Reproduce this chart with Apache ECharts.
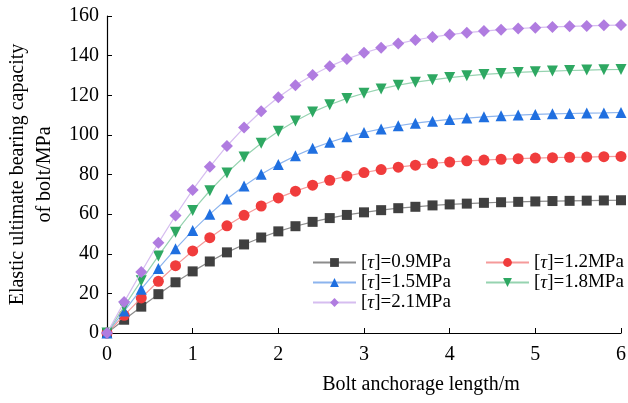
<!DOCTYPE html>
<html>
<head>
<meta charset="utf-8">
<script src="https://cdn.jsdelivr.net/npm/echarts@6/dist/echarts.min.js"></script>
<style>html,body{margin:0;padding:0;background:#fff}#c{width:628px;height:403px}</style>
</head>
<body>
<div id="c"></div>
<script>
var lengths = [0,0.2,0.4,0.6,0.8,1.0,1.2,1.4,1.6,1.8,2.0,2.2,2.4,2.6,2.8,3.0,3.2,3.4,3.6,3.8,4.0,4.2,4.4,4.6,4.8,5.0,5.2,5.4,5.6,5.8,6.0];
var tau09 = [0,6.7,13.3,19.6,25.6,31.1,36.1,40.7,44.7,48.2,51.3,53.9,56.1,58.0,59.6,60.9,62.0,63.0,63.7,64.4,64.9,65.3,65.7,66.0,66.2,66.4,66.6,66.7,66.8,66.9,67.0];
var tau12 = [0,8.9,17.7,26.1,34.0,41.4,48.1,54.1,59.4,64.1,68.2,71.6,74.6,77.1,79.2,81.0,82.5,83.7,84.7,85.6,86.3,86.9,87.3,87.7,88.0,88.3,88.5,88.7,88.8,89.0,89.1];
var tau15 = [0,11.1,22.1,32.6,42.5,51.7,60.0,67.6,74.2,80.1,85.1,89.5,93.2,96.3,99.0,101.2,103.0,104.6,105.9,106.9,107.8,108.5,109.1,109.6,110.0,110.3,110.6,110.8,111.0,111.1,111.3];
var tau18 = [0,13.3,26.4,38.9,50.8,61.8,71.8,80.8,88.8,95.8,101.8,107.0,111.5,115.2,118.4,121.0,123.2,125.1,126.6,127.8,128.9,129.8,130.5,131.0,131.5,131.9,132.2,132.5,132.7,132.9,133.0];
var tau21 = [0,15.6,30.8,45.5,59.3,72.2,83.9,94.4,103.7,111.9,119.0,125.0,130.2,134.6,138.3,141.4,144.0,146.1,147.9,149.4,150.6,151.6,152.4,153.1,153.7,154.1,154.5,154.8,155.0,155.3,155.4];
var seriesNames = ['[τ]=0.9MPa','[τ]=1.2MPa','[τ]=1.5MPa','[τ]=1.8MPa','[τ]=2.1MPa'];
var xTicks = [0,1,2,3,4,5,6];
var yTicks = [0,20,40,60,80,100,120,140,160];

var FONT = '"Liberation Serif","Times New Roman",serif';
function pairs(v){ return lengths.map(function(x,i){ return [x, v[i]]; }); }
var defs = [
  {d:tau09, m:'#404040', l:'#8c8c8c', s:'rect', size:10, rot:0},
  {d:tau12, m:'#f03c3c', l:'#f59a9a', s:'circle', size:11, rot:0},
  {d:tau15, m:'#1f6fe0', l:'#8cb4ee', s:'triangle', size:11, rot:0},
  {d:tau18, m:'#2ea862', l:'#96d3b0', s:'triangle', size:11, rot:180},
  {d:tau21, m:'#b07ce0', l:'#d6bdf0', s:'diamond', size:12, rot:0}
];
var series = defs.map(function(o,i){
  return {
    name: seriesNames[i], type:'line', data: pairs(o.d), smooth:false,
    symbol:o.s, symbolSize:o.size, symbolRotate:o.rot, showAllSymbol:true,
    itemStyle:{color:o.m}, lineStyle:{color:o.l, width:1.2},
    emphasis:{disabled:true}, z: 2+i
  };
});
var rich = {i:{fontFamily:FONT, fontStyle:'italic', fontSize:19, color:'#000'}};
function fmt(n){ return n.replace('τ','{i|τ}'); }
var legendCommon = {
  orient:'vertical', itemWidth:43, itemHeight:11, itemGap:1,
  formatter: fmt,
  textStyle:{fontFamily:FONT, fontSize:19, color:'#000', rich:rich, padding:[0,0,0,0]}
};
var chart = echarts.init(document.getElementById('c'), null, {renderer:'canvas'});
chart.setOption({
  animation:false,
  backgroundColor:'#fff',
  grid:{left:107, right:7, top:16, bottom:70, containLabel:false, outerBoundsMode:'none'},
  legend:[
    Object.assign({left:307, top:248, data:[seriesNames[0],seriesNames[2],seriesNames[4]]}, legendCommon),
    Object.assign({left:480, top:248, data:[seriesNames[1],seriesNames[3]]}, legendCommon)
  ],
  xAxis:{
    type:'value', min:xTicks[0], max:xTicks[xTicks.length-1], interval:1,
    name:'Bolt anchorage length/m', nameLocation:'middle', nameGap:42,
    nameTextStyle:{fontFamily:FONT, fontSize:20, color:'#000', padding:[0,0,0,114]},
    axisLine:{lineStyle:{color:'#000', width:1.2}},
    axisTick:{inside:true, length:5, lineStyle:{color:'#000'}},
    axisLabel:{fontFamily:FONT, fontSize:20, color:'#000', margin:12},
    splitLine:{show:false}
  },
  yAxis:{
    type:'value', min:yTicks[0], max:yTicks[yTicks.length-1], interval:20,
    name:'Elastic ultimate bearing capacity\nof bolt/MPa', nameLocation:'middle', nameGap:44, nameRotate:90,
    nameTextStyle:{fontFamily:FONT, fontSize:20, color:'#000', lineHeight:27},
    axisLine:{show:true, lineStyle:{color:'#000', width:1.2}},
    axisTick:{show:true, inside:true, length:5, lineStyle:{color:'#000'}},
    axisLabel:{fontFamily:FONT, fontSize:20, color:'#000', margin:8},
    splitLine:{show:false}
  },
  series: series
});
</script>
</body>
</html>
